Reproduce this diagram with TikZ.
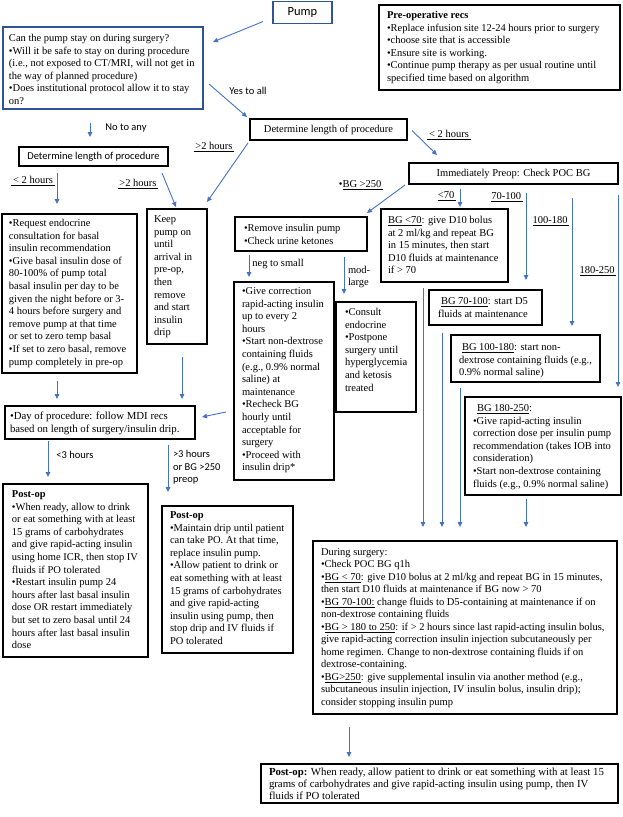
\documentclass[tikz,border=0pt]{standalone}
\usepackage{fontspec}
\setmainfont{Liberation Serif}
\newfontfamily\calib{Carlito}
\usetikzlibrary{arrows.meta}
\definecolor{arrblue}{HTML}{4472C4}
\definecolor{boxblue}{HTML}{2F5597}
\newcommand\bx[4]{\begin{minipage}[t][#2][t]{#1}\vspace*{#3}\noindent\begin{tabular}[t]{@{}l@{}}#4\end{tabular}\end{minipage}}
\tikzset{
  box/.style={draw, line width=1.5pt, inner ysep=0pt, outer sep=0pt, anchor=north west},
  bbox/.style={box, draw=boxblue, line width=1.8pt},
  arr/.style={draw=arrblue, line width=0.9pt, -{Triangle[length=5pt,width=4.5pt]}},
  lab/.style={inner sep=0pt, outer sep=0pt},
  sl/.style={lab, font=\calib\fontsize{10.5}{12.6}\selectfont}
}
\begin{document}
\begin{tikzpicture}[x=1pt,y=-1pt,font=\fontsize{10.5}{12.6}\selectfont]
\useasboundingbox (0,0) rectangle (623,817);
% single-line boxes
\node[bbox, minimum width=59pt, minimum height=22pt, inner sep=0pt] (pump) at (273,1.5) {\calib\fontsize{12.5}{14}\selectfont Pump};
\node[box, minimum width=157pt, minimum height=21pt, inner sep=0pt] (detR) at (250,119) {Determine length of procedure};
\node[box, line width=1.3pt, minimum width=149pt, minimum height=19pt, inner sep=0pt] (detL) at (19,147) {\calib Determine length of procedure};
\node[box, minimum width=209pt, minimum height=21pt, inner sep=0pt] (preop) at (409,163) {Immediately Preop: Check POC BG};
% text boxes
\node[bbox, inner xsep=6pt] (q) at (3,27) {\bx{188pt}{82pt}{5.6pt}{Can the pump stay on during surgery?\\
•Will it be safe to stay on during procedure\\
(i.e., not exposed to CT/MRI, will not get in\\
the way of planned procedure)\\
•Does institutional protocol allow it to stay\\
on?}};
\node[box, line width=1.8pt, inner xsep=8pt] (prerecs) at (379,5) {\bx{225pt}{85pt}{4.6pt}{\textbf{Pre-operative recs}\\
•Replace infusion site 12-24 hours prior to surgery\\
•choose site that is accessible\\
•Ensure site is working.\\
•Continue pump therapy as per usual routine until\\
specified time based on algorithm}};
\node[box, inner xsep=7pt] (leftbig) at (2,214) {\bx{121pt}{159pt}{3.6pt}{•Request endocrine\\
consultation for basal\\
insulin recommendation\\
•Give basal insulin dose of\\
80-100\% of pump total\\
basal insulin per day to be\\
given the night before or 3-\\
4 hours before surgery and\\
remove pump at that time\\
or set to zero temp basal\\
•If set to zero basal, remove\\
pump completely in pre-op}};
\node[box, inner xsep=7pt] (keep) at (147,209) {\bx{46pt}{135pt}{4.6pt}{Keep\\ pump on\\ until\\ arrival in\\ pre-op,\\ then\\ remove\\ and start\\ insulin\\ drip}};
\node[box, inner xsep=9pt] (remove) at (235,217) {\bx{114pt}{34pt}{5.6pt}{•Remove insulin pump\\ •Check urine ketones}};
\node[box, inner xsep=7pt] (bglt) at (381,209) {\bx{113pt}{73pt}{5.6pt}{\underline{BG <70}: give D10 bolus\\
at 2 ml/kg and repeat BG\\
in 15 minutes, then start\\
D10 fluids at maintenance\\
if > 70}};
\node[box, inner xsep=9pt] (bg70) at (429,290) {\bx{95pt}{35pt}{5.6pt}{\hspace{3pt}\underline{BG 70-100}: start D5\\ fluids at maintenance}};
\node[box, inner xsep=8pt] (bg100) at (451,335) {\bx{133pt}{47pt}{6.6pt}{\hspace{3pt}\underline{BG 100-180}: start non-\\
dextrose containing fluids (e.g.,\\
0.9\% normal saline)}};
\node[box, inner xsep=8pt] (bg180) at (465,397) {\bx{140pt}{98pt}{5.6pt}{\hspace{4pt}\underline{BG 180-250}:\\
•Give rapid-acting insulin\\
correction dose per insulin pump\\
recommendation (takes IOB into\\
consideration)\\
•Start non-dextrose containing\\
fluids (e.g., 0.9\% normal saline)}};
\node[box, inner xsep=8pt] (give) at (234,282) {\bx{84pt}{198pt}{3.6pt}{•Give correction\\
rapid-acting insulin\\
up to every 2\\
hours\\
•Start non-dextrose\\
containing fluids\\
(e.g., 0.9\% normal\\
saline) at\\
maintenance\\
•Recheck BG\\
hourly until\\
acceptable for\\
surgery\\
•Proceed with\\
insulin drip*}};
\node[box, inner xsep=9pt] (consult) at (336,302) {\bx{62pt}{110pt}{4.6pt}{•Consult\\ endocrine\\ •Postpone\\ surgery until\\ hyperglycemia\\ and ketosis\\ treated}};
\node[box, inner xsep=5pt, font=\fontsize{10.8}{12.6}\selectfont] (day) at (5,406) {\bx{180pt}{33pt}{4.6pt}{•Day of procedure: follow MDI recs\\ based on length of surgery/insulin drip.}};
\node[box, inner xsep=9pt] (postL) at (3,484) {\bx{127pt}{173pt}{4.6pt}{\textbf{Post-op}\\
•When ready, allow to drink\\
or eat something with at least\\
15 grams of carbohydrates\\
and give rapid-acting insulin\\
using home ICR, then stop IV\\
fluids if PO tolerated\\
•Restart insulin pump 24\\
hours after last basal insulin\\
dose OR restart immediately\\
but set to zero basal until 24\\
hours after last basal insulin\\
dose}};
\node[box, inner xsep=8pt] (postM) at (162,506) {\bx{115pt}{147pt}{3.6pt}{\textbf{Post-op}\\
•Maintain drip until patient\\
can take PO. At that time,\\
replace insulin pump.\\
•Allow patient to drink or\\
eat something with at least\\
15 grams of carbohydrates\\
and give rapid-acting\\
insulin using pump, then\\
stop drip and IV fluids if\\
PO tolerated}};
\node[box, line width=1.8pt, inner xsep=8pt, font=\fontsize{10.5}{12.5}\selectfont] (dur) at (313,541) {\bx{288pt}{173pt}{5.6pt}{During surgery:\\
•Check POC BG q1h\\
•\underline{BG < 70}: give D10 bolus at 2 ml/kg and repeat BG in 15 minutes,\\
then start D10 fluids at maintenance if BG now > 70\\
•\underline{BG 70-100:} change fluids to D5-containing at maintenance if on\\
non-dextrose containing fluids\\
•\underline{BG > 180 to 250}: if > 2 hours since last rapid-acting insulin bolus,\\
give rapid-acting correction insulin injection subcutaneously per\\
home regimen. Change to non-dextrose containing fluids if on\\
dextrose-containing.\\
•\underline{BG>250}: give supplemental insulin via another method (e.g.,\\
subcutaneous insulin injection, IV insulin bolus, insulin drip);\\
consider stopping insulin pump}};
\node[box, line width=1.8pt, inner xsep=8pt, font=\fontsize{10.8}{11.8}\selectfont] (postB) at (261,764) {\bx{341pt}{39pt}{3.2pt}{\textbf{Post-op:} When ready, allow patient to drink or eat something with at least 15\\
grams of carbohydrates and give rapid-acting insulin using pump, then IV\\
fluids if PO tolerated}};
% labels
\node[sl] (lyes) at (248,91) {Yes to all};
\node[sl] (lno) at (126,128) {No to any};
\node[lab] (l2r) at (449,135) {\underline{\,< 2 hours\,}};
\node[lab] (g2u) at (214,147) {\underline{\,>2 hours\,}};
\node[lab] (l2l) at (33,181) {\underline{\,< 2 hours\,}};
\node[lab] (g2l) at (138,184) {\underline{\,>2 hours\,}};
\node[lab] (lbg) at (361,185) {•\underline{BG >250\,}};
\node[lab] (l70) at (447,196) {\underline{<70\,}};
\node[lab] (l70100) at (507,197) {\underline{70-100\,}};
\node[lab] (l100) at (551,221) {\underline{100-180\,}};
\node[lab] (l180) at (598,271) {\underline{180-250\,}};
\node[lab] (lneg) at (278,264) {neg to small};
\node[lab, anchor=west, align=left] (lmod) at (348,277) {mod-\\large};
\node[sl] (l3) at (75,455) {<3 hours};
\node[sl, anchor=west, align=left] (g3) at (173,467.5) {>3 hours\\or BG >250\\preop};
% connectors
\draw[arr] ([shift={(-10,-2)}]pump.south west) -- ([shift={(10,15)}]q.north east);
\draw[arr] ([shift={(6,-25)}]q.south east) -- ([shift={(-3,-2)}]detR.north west);
\draw[arr] ([shift={(87,14)}]q.south west) -- ([shift={(71,-10)}]detL.north west);
\draw[arr] ([shift={(5,1)}]detR.east) -- ([shift={(28,-8)}]preop.north west);
\draw[arr] ([shift={(-2,3)}]detR.south west) -- ([shift={(0,-7)}]keep.north east);
\draw[arr] ([shift={(38,7)}]detL.south west) -- ([shift={(55,-10)}]leftbig.north west);
\draw[arr] ([shift={(143,7)}]detL.south west) -- ([shift={(29,-2)}]keep.north west);
\draw[arr] ([shift={(-4,1)}]preop.south west) -- ([shift={(0,-4)}]remove.north east);
\draw[arr] ([shift={(51,5)}]preop.south west) -- ([shift={(79,-2)}]bglt.north west);
\draw[arr] ([shift={(117,9)}]preop.south west) -- ([shift={(97,-10)}]bg70.north west);
\draw[arr] ([shift={(163,14)}]preop.south west) -- ([shift={(121,-9)}]bg100.north west);
\draw[arr] ([shift={(209,11)}]preop.south west) -- ([shift={(153,-10)}]bg180.north west);
\draw[arr] ([shift={(14,4)}]remove.south west) -- ([shift={(15,-5)}]give.north west);
\draw[arr] ([shift={(109,6)}]remove.south west) -- ([shift={(8,-8)}]consult.north west);
\draw[arr] ([shift={(42,6)}]bglt.south west) -- ([shift={(110,-14)}]dur.north west);
\draw[arr] ([shift={(13,8)}]bg70.south west) -- ([shift={(129,-14)}]dur.north west);
\draw[arr] ([shift={(9,6)}]bg100.south west) -- ([shift={(147,-14)}]dur.north west);
\draw[arr] ([shift={(61,4)}]bg180.south west) -- ([shift={(213,-14)}]dur.north west);
\draw[arr] ([shift={(55,8)}]leftbig.south west) -- ([shift={(52,-7)}]day.north west);
\draw[arr] ([shift={(35,13)}]keep.south west) -- ([shift={(177,-7)}]day.north west);
\draw[arr] ([shift={(-8,-68)}]give.south west) -- ([shift={(7,11)}]day.north east);
\draw[arr] ([shift={(43,2)}]day.south west) -- ([shift={(45,-7)}]postL.north west);
\draw[arr] ([shift={(163,6)}]day.south west) -- ([shift={(6,-14)}]postM.north west);
\draw[arr] ([shift={(36,13)}]dur.south west) -- ([shift={(88,-7)}]postB.north west);
\end{tikzpicture}
\end{document}
